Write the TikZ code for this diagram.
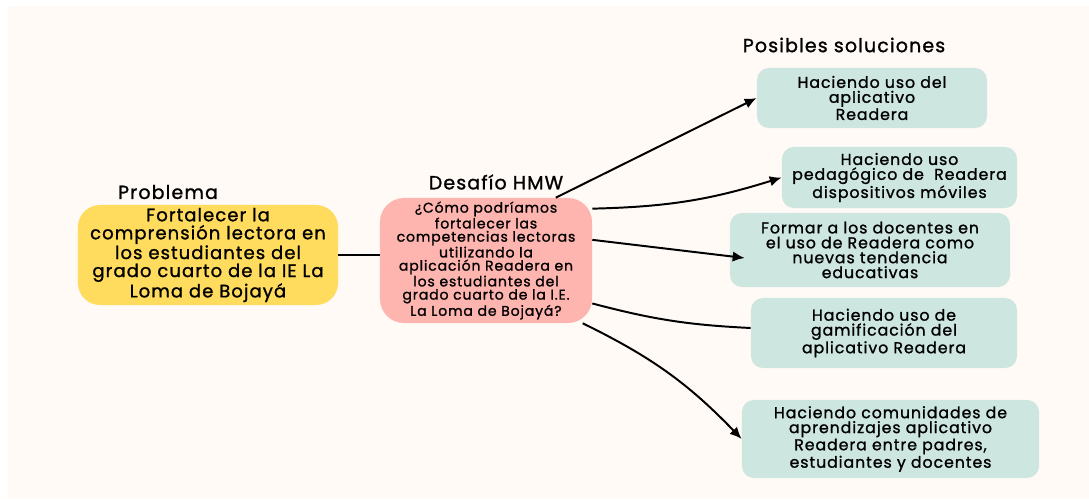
\documentclass[tikz,border=0pt]{standalone}
\usepackage{fontspec}
\setmainfont{Poppins}[LetterSpace=6,FakeBold=1.2]
\usepackage{tikz}
\usetikzlibrary{arrows.meta,calc,positioning}
\definecolor{cream}{RGB}{255,250,246}
\definecolor{probyellow}{RGB}{255,219,94}
\definecolor{hmwpink}{RGB}{255,181,175}
\definecolor{solteal}{RGB}{205,230,224}

\begin{document}
\begin{tikzpicture}[x=0.025cm,y=-0.025cm,
    title/.style={font=\fontsize{13.5}{15}\selectfont},
    probbox/.style={fill=probyellow,rounded corners=0.55cm,align=center,inner sep=0,
      minimum width=6.5cm,minimum height=2.5cm,font=\fontsize{12.8}{12.8}\selectfont},
    hmwbox/.style={fill=hmwpink,rounded corners=0.6cm,align=center,inner sep=0,
      minimum width=5.3cm,minimum height=3.125cm,font=\fontsize{10}{9.4}\selectfont},
    solbox/.style={fill=solteal,rounded corners=0.3cm,align=center,inner sep=0,
      font=\fontsize{11.2}{10.6}\selectfont},
    conn/.style={line width=1.4pt},
    arr/.style={conn,-{Latex[length=3mm,width=2.6mm]}}]
          % background sheet
          \useasboundingbox (0,0) rectangle (1089,499);
          \fill[cream] (8,6) rectangle (1089,499);
          % the problem and the challenge
          \node[title] (problabel) at (168,192) {Problema};
          \node[probbox] (prob) at (208,255) {Fortalecer la\\comprensión lectora en\\los estudiantes del\\grado cuarto de la IE La\\Loma de Bojayá};
          \node[title] (hmwlabel) at (496,182) {Desafío HMW};
          \node[hmwbox] (hmw) at (486,260.5) {¿Cómo podríamos\\fortalecer las\\competencias lectoras\\utilizando la\\aplicación Readera en\\los estudiantes del\\grado cuarto de la I.E.\\La Loma de Bojayá?};
          % possible solutions
          \node[title] (sollabel) at (844,45) {Posibles soluciones};
          \node[solbox,minimum width=5.75cm,minimum height=1.5cm] (sol1) at (872,98) {Haciendo uso del\\aplicativo\\Readera};
          \node[solbox,minimum width=5.875cm,minimum height=1.525cm] (sol2) at (899.5,177.5) {Haciendo uso\\pedagógico de \ Readera\\dispositivos móviles};
          \node[solbox,minimum width=7cm,minimum height=1.85cm] (sol3) at (870,250) {Formar a los docentes en\\el uso de Readera como\\nuevas tendencia\\educativas};
          \node[solbox,minimum width=6.65cm,minimum height=1.75cm] (sol4) at (884,333) {Haciendo uso de\\gamificación del\\aplicativo Readera};
          \node[solbox,minimum width=7.425cm,minimum height=1.95cm] (sol5) at (890.5,439) {Haciendo comunidades de\\aprendizajes aplicativo\\Readera entre padres,\\estudiantes y docentes};
          % connectors
          \draw[conn] (prob.east) -- (prob.east -| hmw.west);
          \draw[arr] (hmw.42) -- (sol1.west);
          \draw[arr] (hmw.26) to[bend right=8] (sol2.west);
          \draw[arr] (hmw.11) -- ([xshift=0.375cm,yshift=-0.2cm]sol3.west);
          \draw[conn] (hmw.-22) to[bend right=6] ([yshift=0.125cm]sol4.west);
          \draw[arr] (hmw.-33) to[bend left=10] (sol5.west);
        \end{tikzpicture}
\end{document}
